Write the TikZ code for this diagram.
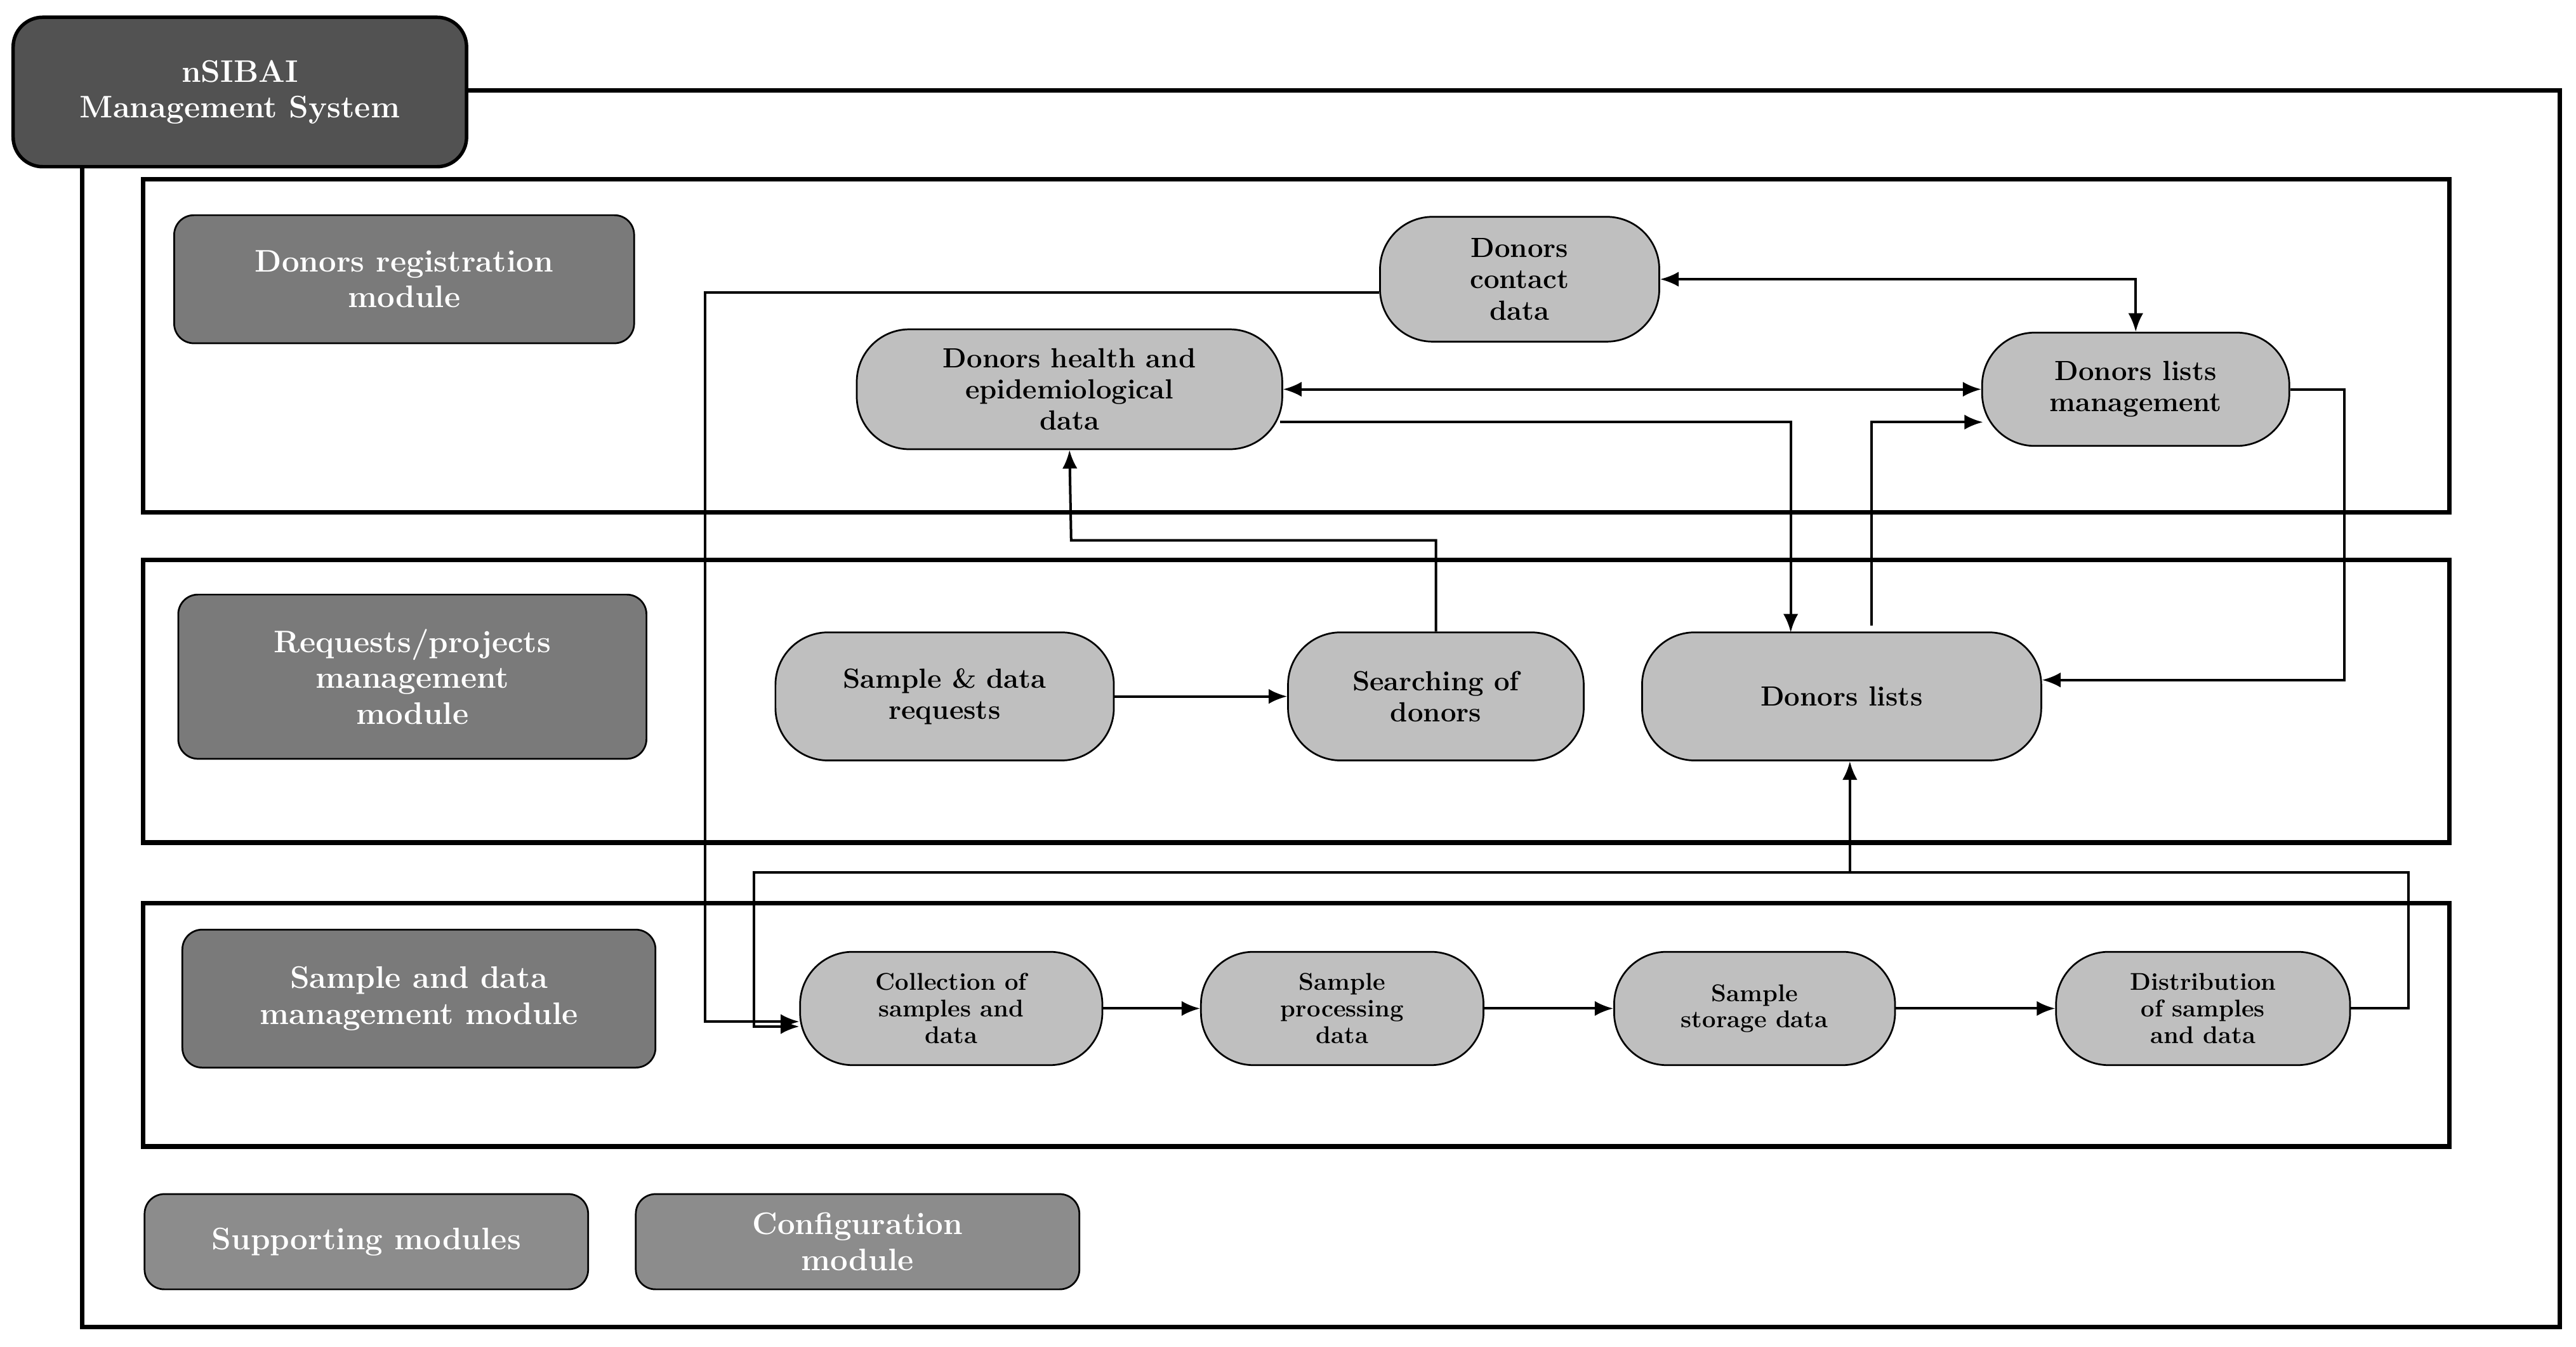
\documentclass[tikz,border=0pt]{standalone}
\usetikzlibrary{arrows.meta}
\begin{document}
\begin{tikzpicture}[x=0.05cm,y=-0.05cm,
 frame/.style={draw=black,line width=4pt},
 pill/.style={draw=black,line width=1.5pt,fill=black!25,rounded corners=1.6cm,align=center,font=\fontsize{24}{27}\selectfont\bfseries,inner sep=0pt},
 mod/.style={draw=black,line width=1.5pt,fill=black!52,rounded corners=0.6cm,align=center,text=white,font=\fontsize{27}{31}\selectfont\bfseries,inner sep=0pt},
 con/.style={line width=2.2pt,-{Latex[length=16pt,width=13pt]}},
 dcon/.style={line width=2.2pt,{Latex[length=16pt,width=13pt]}-{Latex[length=16pt,width=13pt]}}]
\useasboundingbox (0,0) rectangle (1568,820);
\draw[frame] (50,55) rectangle (1558,808);
\node[mod,fill=black!68,line width=3pt,minimum width=13.8cm,minimum height=4.55cm,rounded corners=0.9cm] (title) at (146,56) {nSIBAI\\Management System};
\draw[frame] (87,109) rectangle (1491,312);
\draw[frame] (87,341) rectangle (1491,513);
\draw[frame] (87,550) rectangle (1491,698);
\node[mod,minimum width=14cm,minimum height=3.9cm] (m1) at (246,170) {Donors registration\\module};
\node[mod,minimum width=14.25cm,minimum height=5cm] (m2) at (251,412) {Requests/projects\\management\\module};
\node[mod,minimum width=14.4cm,minimum height=4.2cm] (m3) at (255,608) {Sample and data\\management module};
\node[mod,fill=black!45,minimum width=13.5cm,minimum height=2.9cm] (m4) at (223,756) {Supporting modules};
\node[mod,fill=black!45,minimum width=13.5cm,minimum height=2.9cm] (m5) at (522,756) {Configuration\\module};
\node[pill,minimum width=8.5cm,minimum height=3.8cm] (contact) at (925,170) {Donors\\contact\\data};
\node[pill,minimum width=12.95cm,minimum height=3.65cm] (health) at (651,237) {Donors health and\\epidemiological\\data};
\node[pill,minimum width=9.35cm,minimum height=3.45cm] (lm) at (1300,237) {Donors lists\\management};
\node[pill,minimum width=10.3cm,minimum height=3.9cm] (req) at (575,424) {Sample \& data\\requests};
\node[pill,minimum width=9cm,minimum height=3.9cm] (search) at (874,424) {Searching of\\donors};
\node[pill,minimum width=12.15cm,minimum height=3.9cm] (dl) at (1121,424) {Donors lists};
\node[pill,minimum width=9.2cm,minimum height=3.45cm,font=\fontsize{21}{23}\selectfont\bfseries] (col) at (579,614) {Collection of\\samples and\\data};
\node[pill,minimum width=8.6cm,minimum height=3.45cm,font=\fontsize{21}{23}\selectfont\bfseries] (proc) at (817,614) {Sample\\processing\\data};
\node[pill,minimum width=8.55cm,minimum height=3.45cm,font=\fontsize{21}{23}\selectfont\bfseries] (stor) at (1068,614) {Sample\\storage data};
\node[pill,minimum width=8.95cm,minimum height=3.45cm,font=\fontsize{21}{23}\selectfont\bfseries] (dist) at (1341,614) {Distribution\\of samples\\and data};
% connectors
\draw[con] (contact.west |- 0,178) -- (429,178) -- (429,622) -- (col.west |- 0,622);
\draw[dcon] (contact.east) -- (1300,170) -- (lm.north);
\draw[dcon] (health.east) -- (lm.west);
\draw[con] (779,257) -- (1090,257) -- (1090,385);
\draw[con] (1139,381) -- (1139,257) -- (1207,257);
\draw[con] (lm.east) -- (1427,237) -- (1427,414) -- (1243,414);
\draw[con] (search.north) -- (874,329) -- (652,329) -- (health.south);
\draw[con] (req) -- (search);
\draw[con] (col) -- (proc);
\draw[con] (proc) -- (stor);
\draw[con] (stor) -- (dist);
\draw[con] (dist.east) -- (1466,614) -- (1466,531) -- (459,531) -- (459,625) -- (col.west |- 0,625);
\draw[con] (1126,531) -- (dl.south -| 1126,0);
\end{tikzpicture}
\end{document}
